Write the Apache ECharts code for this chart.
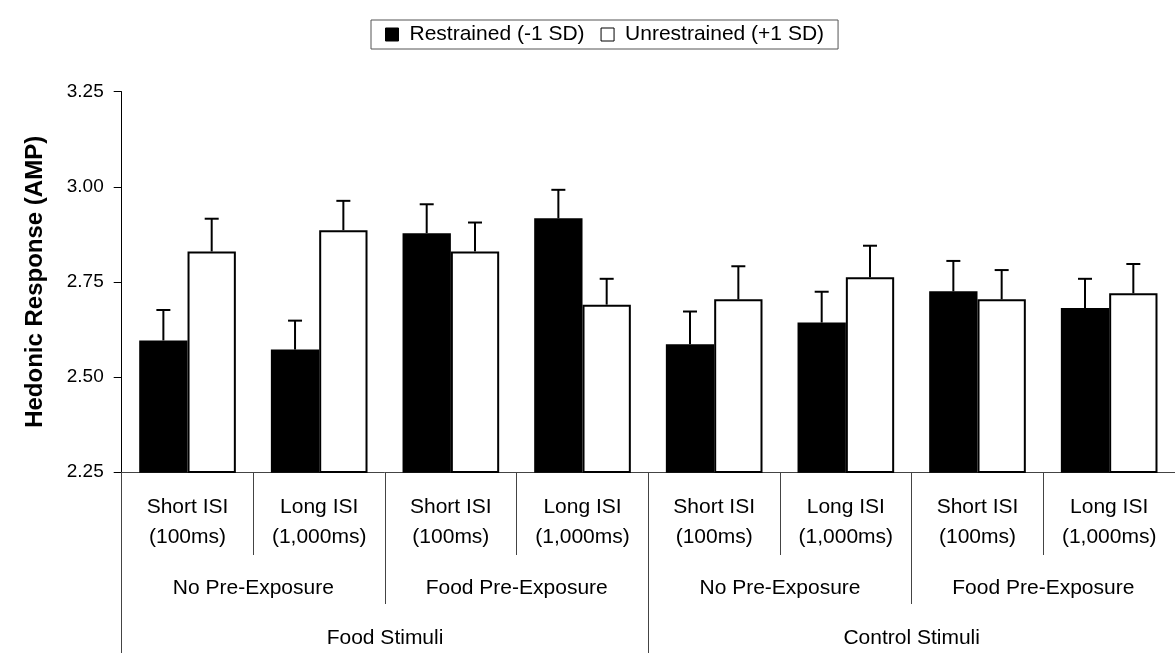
<!DOCTYPE html>
<html>
<head>
<meta charset="utf-8">
<script src="https://cdn.jsdelivr.net/npm/echarts@6/dist/echarts.min.js"></script>
<style>
  html, body { margin: 0; padding: 0; background: #fff; }
  #chart { width: 1175px; height: 653px; }
</style>
</head>
<body>
<div id="chart"></div>
<script>
// ---- data ----
const isiLabels = ['Short ISI\n(100ms)', 'Long ISI\n(1,000ms)', 'Short ISI\n(100ms)', 'Long ISI\n(1,000ms)',
                   'Short ISI\n(100ms)', 'Long ISI\n(1,000ms)', 'Short ISI\n(100ms)', 'Long ISI\n(1,000ms)'];
const exposureLabels = ['No Pre-Exposure', 'Food Pre-Exposure', 'No Pre-Exposure', 'Food Pre-Exposure'];
const stimulusLabels = ['Food Stimuli', 'Control Stimuli'];
const seriesNames = ['Restrained (-1 SD)', 'Unrestrained (+1 SD)'];
const restrained = [2.596, 2.572, 2.878, 2.917, 2.586, 2.643, 2.725, 2.681];
const restrainedErr = [0.080, 0.076, 0.076, 0.075, 0.086, 0.081, 0.080, 0.077];
const unrestrained = [2.830, 2.886, 2.830, 2.690, 2.704, 2.762, 2.704, 2.720];
const unrestrainedErr = [0.086, 0.077, 0.076, 0.068, 0.087, 0.083, 0.077, 0.077];
const yTicks = [2.25, 2.50, 2.75, 3.00, 3.25];

// ---- chart ----
const FONT = '"Liberation Sans", Arial, sans-serif';
const BAR_FRAC = 0.367;
const chart = echarts.init(document.getElementById('chart'), null, { renderer: 'canvas' });

function errData(vals, errs) {
  return vals.map((v, i) => [i, v + errs[i], v]);
}
function errRender(side) {
  return function (params, api) {
    const i = api.value(0);
    const top = api.coord([i, api.value(1)]);
    const base = api.coord([i, api.value(2)]);
    const catW = api.size([1, 0])[0];
    const bw = catW * BAR_FRAC;
    const x = top[0] + side * bw / 2;
    const cap = 7;
    const st = { stroke: '#000', lineWidth: 2 };
    return {
      type: 'group',
      children: [
        { type: 'line', shape: { x1: x, y1: base[1], x2: x, y2: top[1] }, style: st },
        { type: 'line', shape: { x1: x - cap, y1: top[1], x2: x + cap, y2: top[1] }, style: st }
      ]
    };
  };
}

const axisCommon = {
  type: 'category',
  position: 'bottom',
  boundaryGap: true,
  axisLine: { show: false },
  axisTick: { show: true, interval: 0, lineStyle: { color: '#444', width: 1 } },
  axisLabel: { interval: 0, color: '#000', fontFamily: FONT, fontSize: 21, lineHeight: 30 }
};

const option = {
  backgroundColor: '#fff',
  animation: false,
  textStyle: { fontFamily: FONT },
  legend: {
    data: [
      { name: seriesNames[0], itemStyle: { color: '#000', borderColor: '#000', borderWidth: 1 } },
      { name: seriesNames[1], itemStyle: { color: '#fff', borderColor: '#000', borderWidth: 1 } }
    ],
    left: 371,
    top: 20,
    icon: 'rect',
    itemWidth: 13,
    itemHeight: 13,
    itemGap: 16,
    padding: [4, 14, 4, 14],
    borderColor: '#555',
    borderWidth: 1,
    textStyle: { color: '#000', fontFamily: FONT, fontSize: 21, padding: [0, 0, 0, 6] }
  },
  grid: { left: 121.7, top: 91.7, width: 1058, bottom: 180.3, containLabel: false },
  xAxis: [
    Object.assign({}, axisCommon, {
      data: isiLabels,
      axisLine: { show: true, lineStyle: { color: '#444', width: 1 } },
      axisTick: { show: true, interval: 0, length: 83, lineStyle: { color: '#444', width: 1 } },
      axisLabel: Object.assign({}, axisCommon.axisLabel, { margin: 20 })
    }),
    Object.assign({}, axisCommon, {
      data: exposureLabels,
      axisTick: { show: true, interval: 0, length: 132, lineStyle: { color: '#444', width: 1 } },
      axisLabel: Object.assign({}, axisCommon.axisLabel, { margin: 101 })
    }),
    Object.assign({}, axisCommon, {
      data: stimulusLabels,
      axisTick: { show: true, interval: 0, length: 200, lineStyle: { color: '#444', width: 1 } },
      axisLabel: Object.assign({}, axisCommon.axisLabel, { margin: 151 })
    })
  ],
  yAxis: {
    type: 'value',
    min: yTicks[0],
    max: yTicks[yTicks.length - 1],
    interval: 0.25,
    name: 'Hedonic Response (AMP)',
    nameLocation: 'middle',
    nameRotate: 90,
    nameGap: 74,
    nameTextStyle: { color: '#000', fontFamily: FONT, fontSize: 24, fontWeight: 'bold' },
    axisLine: { show: true, lineStyle: { color: '#000', width: 1 } },
    axisTick: { show: true, inside: false, length: 8, lineStyle: { color: '#000', width: 1 } },
    splitLine: { show: false },
    axisLabel: {
      color: '#000', fontFamily: FONT, fontSize: 19, margin: 18,
      formatter: v => v.toFixed(2)
    }
  },
  series: [
    {
      name: seriesNames[0], type: 'bar', xAxisIndex: 0, data: restrained,
      barWidth: (BAR_FRAC * 100) + '%', barGap: '0%',
      itemStyle: { color: '#000', borderColor: '#000', borderWidth: 1.5 }
    },
    {
      name: seriesNames[1], type: 'bar', xAxisIndex: 0, data: unrestrained,
      barWidth: (BAR_FRAC * 100) + '%', barGap: '0%',
      itemStyle: { color: '#fff', borderColor: '#000', borderWidth: 2 }
    },
    {
      name: 'errR', type: 'custom', xAxisIndex: 0, renderItem: errRender(-1),
      data: errData(restrained, restrainedErr), z: 5, encode: { x: 0, y: 1 }
    },
    {
      name: 'errU', type: 'custom', xAxisIndex: 0, renderItem: errRender(1),
      data: errData(unrestrained, unrestrainedErr), z: 5, encode: { x: 0, y: 1 }
    }
  ]
};
chart.setOption(option);
</script>
</body>
</html>
